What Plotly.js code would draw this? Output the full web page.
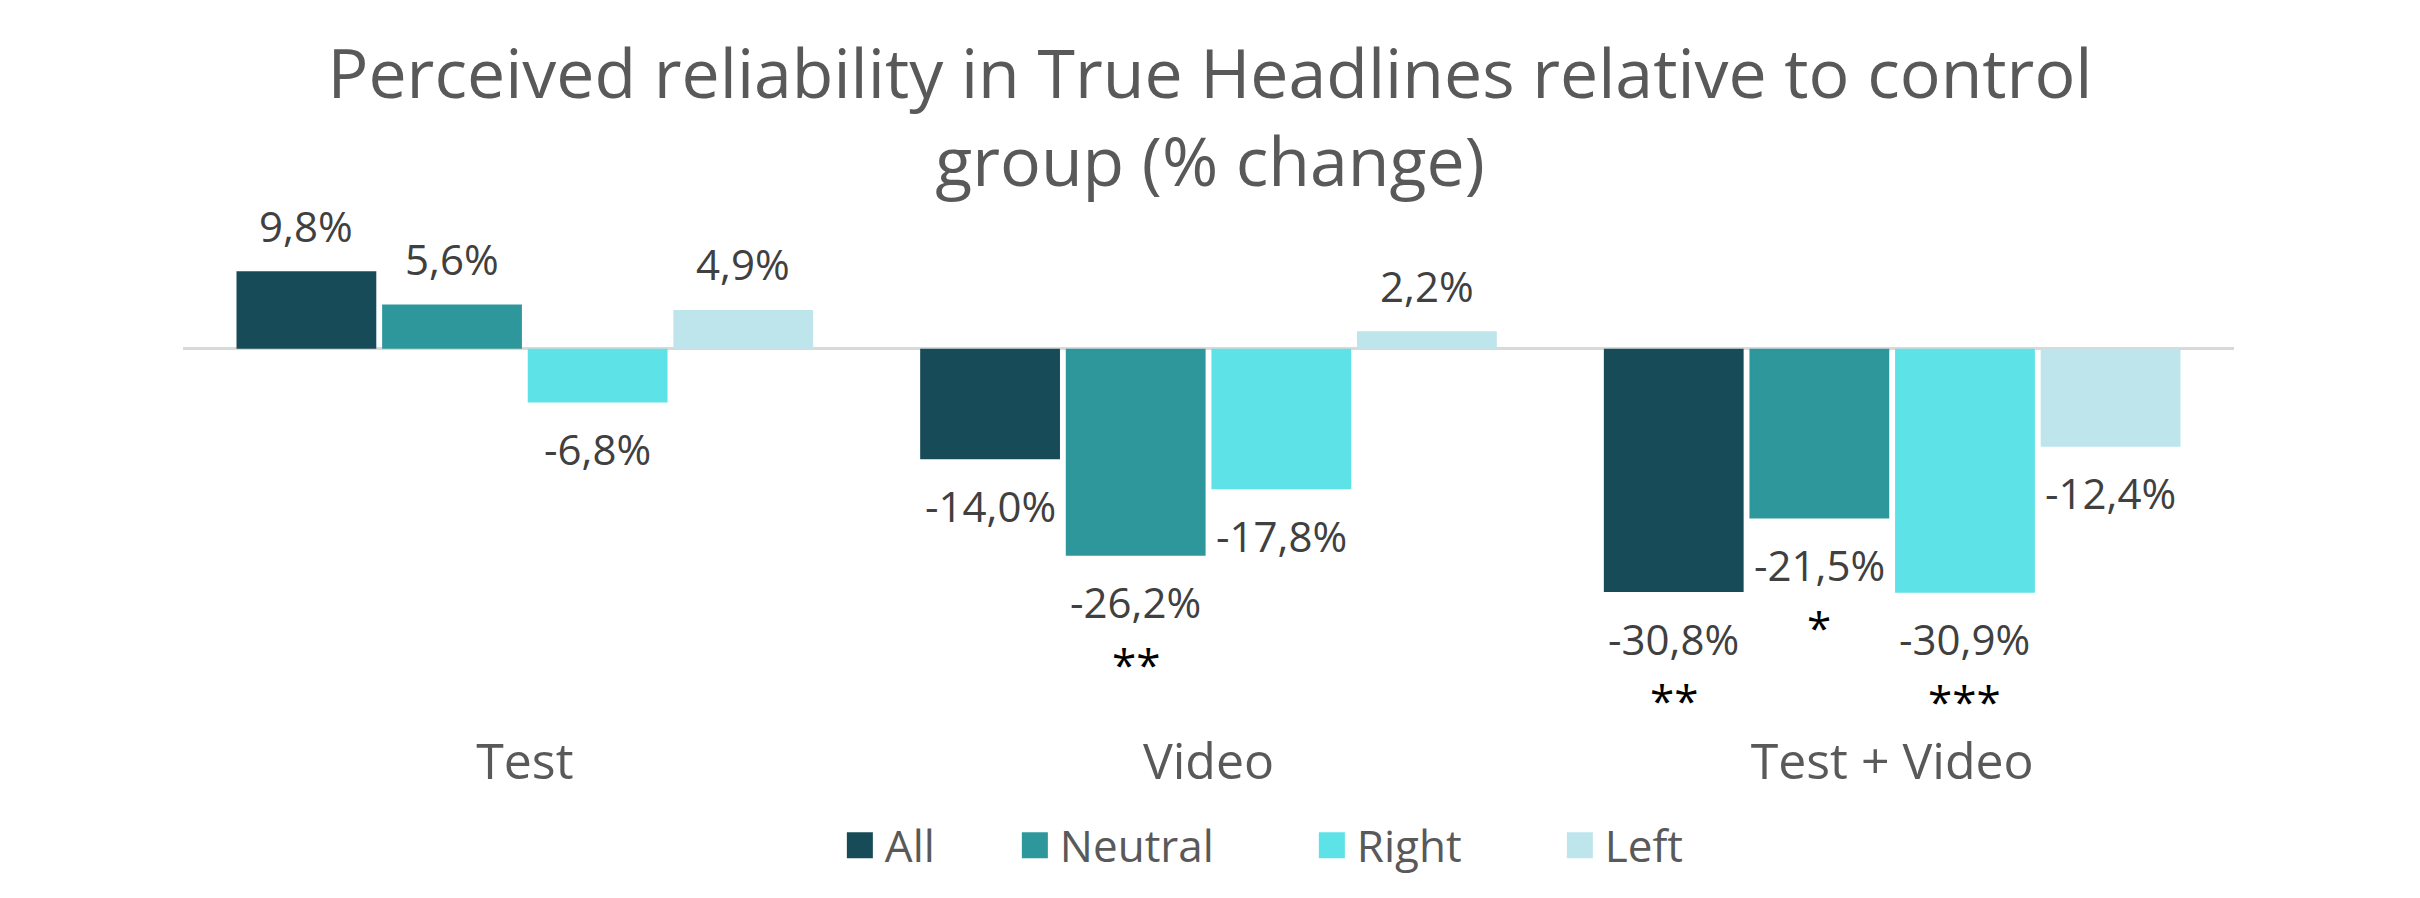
<!DOCTYPE html>
<html>
<head>
<meta charset="utf-8">
<script src="https://cdn.plot.ly/plotly-3.0.1.min.js"></script>
<style>html,body{margin:0;padding:0;background:#fff;}#chart{width:2420px;height:898px;}</style>
</head>
<body>
<div id="chart"></div>
<script>
// ---- data ----
const categories = ["Test", "Video", "Test + Video"];
const seriesNames = ["All", "Neutral", "Right", "Left"];
const allValues = [9.8, -14.0, -30.8];
const neutralValues = [5.6, -26.2, -21.5];
const rightValues = [-6.8, -17.8, -30.9];
const leftValues = [4.9, 2.2, -12.4];
const allStars = ["", "", "**"];
const neutralStars = ["", "**", "*"];
const rightStars = ["", "", "***"];
const leftStars = ["", "", ""];
const titleText = "Perceived reliability in True Headlines relative to control<br>group (% change)";

// ---- styles ----
const colors = ["#164B57", "#2E979B", "#5DE2E7", "#BEE5EC"];
const legendWidths = [130, 252, 203, 100];
const FONT = "Open Sans, sans-serif";
const BARGAP = 0.148, GROUPGAP = 0.04;

const seriesValues = [allValues, neutralValues, rightValues, leftValues];
const seriesStars = [allStars, neutralStars, rightStars, leftStars];

const fmt = v => v.toFixed(1).replace(".", ",") + "%";

const traces = seriesNames.map((name, i) => ({
  type: "bar",
  name: name,
  x: categories,
  y: seriesValues[i],
  marker: {color: colors[i]},
  legendwidth: legendWidths[i],
  hoverinfo: "skip"
}));

const nS = seriesNames.length;
const slot = (1 - BARGAP) / nS;
const annotations = [];
seriesValues.forEach((vals, i) => {
  const off = -(1 - BARGAP) / 2 + slot * (i + 0.5);
  vals.forEach((v, j) => {
    annotations.push({
      x: j + off, y: v, xref: "x", yref: "y",
      text: fmt(v), showarrow: false,
      yanchor: "middle", yshift: v >= 0 ? 46 : -46,
      font: {family: FONT, size: 42, color: "#404040"}
    });
    const s = seriesStars[i][j];
    if (s) {
      annotations.push({
        x: j + off, y: v, xref: "x", yref: "y",
        text: s, showarrow: false,
        yanchor: "middle", yshift: -108,
        font: {family: FONT, size: 44, color: "#000000"}
      });
    }
  });
});

const layout = {
  width: 2420, height: 898,
  paper_bgcolor: "#ffffff", plot_bgcolor: "#ffffff",
  margin: {l: 183, r: 186, t: 238, b: 170},
  barmode: "group", bargap: BARGAP, bargroupgap: GROUPGAP,
  title: {
    text: titleText, x: 0.5, xref: "container", xanchor: "center",
    y: 1 - 98 / 898, yref: "container", yanchor: "middle",
    font: {family: FONT, size: 68, color: "#595959"}
  },
  xaxis: {
    type: "category", showgrid: false, showline: false, zeroline: false,
    ticks: "", tickfont: {family: FONT, size: 50, color: "#595959"}
  },
  yaxis: {
    range: [-48, 14], showgrid: false, showline: false, showticklabels: false,
    zeroline: true, zerolinecolor: "#D9D9D9", zerolinewidth: 3, ticks: ""
  },
  showlegend: true,
  legend: {
    orientation: "h", x: 0.3227, xanchor: "left", y: -0.24, yanchor: "middle",
    font: {family: FONT, size: 44, color: "#595959"},
    itemwidth: 30
  },
  annotations: annotations
};

Plotly.newPlot("chart", traces, layout, {displayModeBar: false, staticPlot: true}).then(gd => {
  gd.querySelectorAll(".legend .legendpoints path").forEach(p => {
    p.removeAttribute("transform");
    p.setAttribute("d", "M28,13H2V-13H28Z");
  });
});
</script>
</body>
</html>
